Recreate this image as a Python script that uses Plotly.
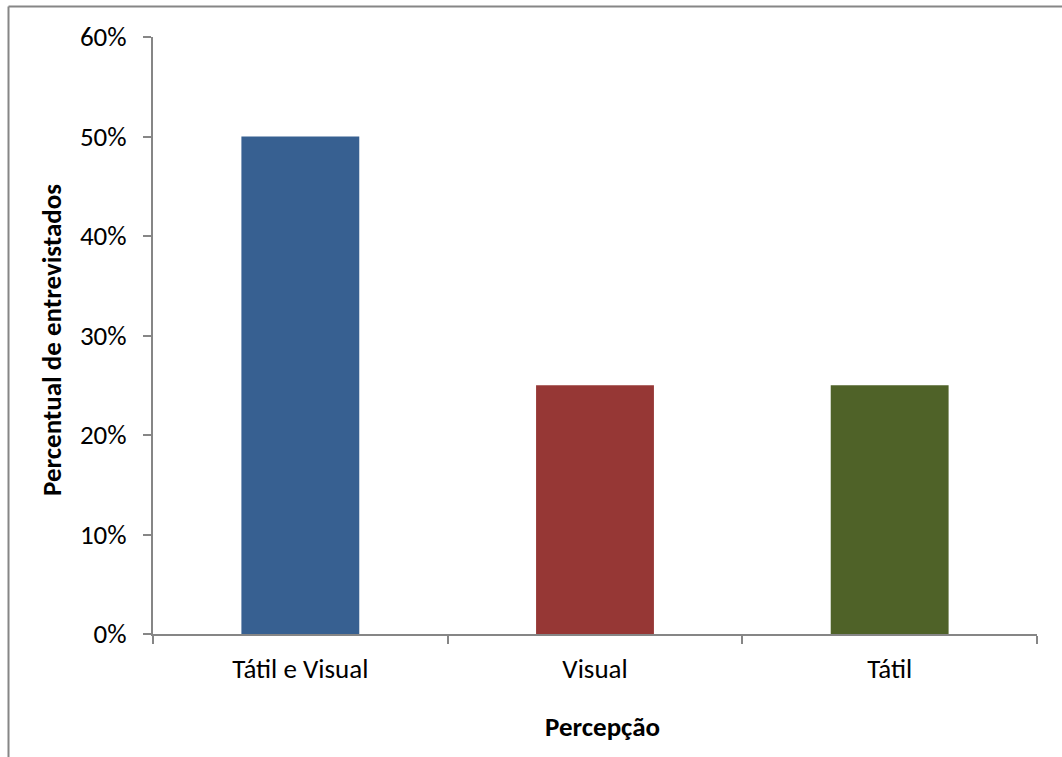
import plotly.graph_objects as go

# Survey results: how interviewees perceive the element
categorias = ["Tátil e Visual", "Visual", "Tátil"]
percentuais = [0.50, 0.25, 0.25]
cores = ["#376091", "#963735", "#4F6228"]
ticks_y = [0.0, 0.1, 0.2, 0.3, 0.4, 0.5, 0.6]
rotulos_y = ["0%", "10%", "20%", "30%", "40%", "50%", "60%"]
titulo_x = "Percepção"
titulo_y = "Percentual de entrevistados"

W, H = 1062, 757
ML, MR, MT, MB = 153, 25, 37, 123
FONTE = "Carlito, Calibri, Lato, sans-serif"
CINZA = "#868686"

fig = go.Figure(
    go.Bar(
        x=categorias,
        y=percentuais,
        marker=dict(color=cores, line=dict(width=0)),
        width=0.4,
    )
)

pw = W - ML - MR
ph = H - MT - MB


def px_x(x):
    return (x - ML) / pw


def px_y(y):
    return (H - MB - y) / ph


# outer chart-area frame (left and top edges)
fig.add_shape(type="line", xref="paper", yref="paper",
              x0=px_x(8.5), x1=px_x(8.5), y0=px_y(H), y1=px_y(6.5),
              line=dict(color=CINZA, width=2))
fig.add_shape(type="line", xref="paper", yref="paper",
              x0=px_x(8.5), x1=px_x(W), y0=px_y(6.5), y1=px_y(6.5),
              line=dict(color=CINZA, width=2))

# axis titles, centred on the chart area
fig.add_annotation(text=f"<b>{titulo_x}</b>", xref="paper", yref="paper",
                   x=px_x(602), y=px_y(727), xanchor="center", yanchor="middle",
                   showarrow=False, font=dict(size=27))
fig.add_annotation(text=f"<b>{titulo_y}</b>", xref="paper", yref="paper",
                   x=px_x(51), y=px_y(340), xanchor="center", yanchor="middle",
                   textangle=-90, showarrow=False, font=dict(size=27))

fig.update_layout(
    width=W,
    height=H,
    margin=dict(l=ML, r=MR, t=MT, b=MB),
    paper_bgcolor="white",
    plot_bgcolor="white",
    showlegend=False,
    font=dict(family=FONTE, size=27, color="black"),
    bargap=0.6,
)
fig.update_xaxes(
    showline=True,
    linecolor=CINZA,
    linewidth=2,
    ticks="outside",
    tickson="boundaries",
    ticklen=8,
    tickwidth=2,
    tickcolor=CINZA,
    ticklabelstandoff=10,
    showgrid=False,
)
fig.update_yaxes(
    range=[0, 0.6],
    tickvals=ticks_y,
    ticktext=rotulos_y,
    showline=True,
    linecolor=CINZA,
    linewidth=2,
    ticks="outside",
    ticklen=8,
    tickwidth=2,
    tickcolor=CINZA,
    ticklabelstandoff=11,
    showgrid=False,
    zeroline=False,
)

fig.write_html("out.html")
